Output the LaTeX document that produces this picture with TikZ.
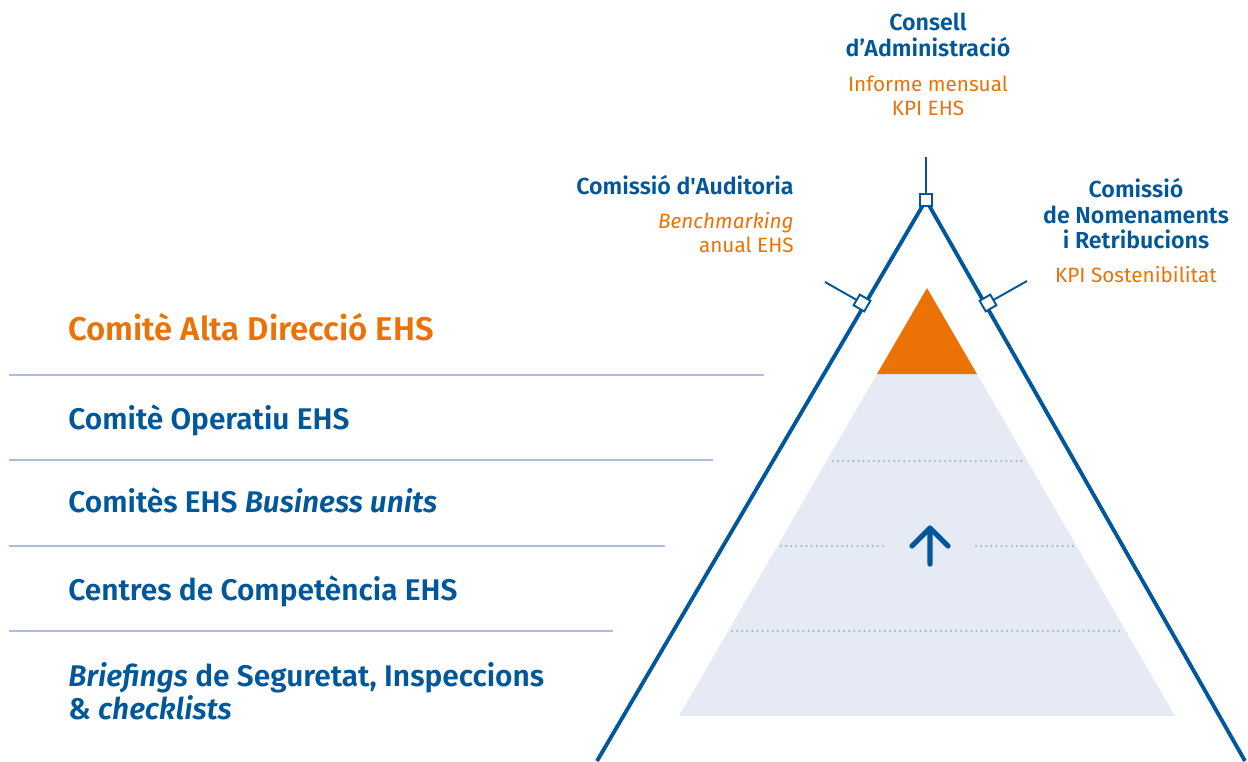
\documentclass[tikz,border=0pt]{standalone}
\usepackage{fontspec}
\setmainfont{Fira Sans}[BoldFont={Fira Sans SemiBold}]
\usetikzlibrary{positioning}
\definecolor{ehsblue}{HTML}{00579A}
\definecolor{ehsorange}{HTML}{EC7205}
\definecolor{pyrfill}{HTML}{E5EAF5}
\definecolor{ruleblue}{HTML}{A9BDE0}
\definecolor{dotblue}{HTML}{9DB2DA}
\newcommand{\plainapos}{{\addfontfeature{Ligatures=TeXOff}'}}

\begin{document}
\begin{tikzpicture}[x=0.02cm,y=-0.02cm,
  lvl/.style={anchor=base west,inner sep=0pt,
    font=\fontsize{17}{18.7}\selectfont\bfseries,text=ehsblue},
  organ/.style={inner sep=0pt,align=center,
    font=\fontsize{13.2}{14.6}\selectfont\bfseries,text=ehsblue},
  kpi/.style={inner sep=0pt,align=center,
    font=\fontsize{11.8}{13.6}\selectfont,text=ehsorange},
  sep/.style={ruleblue,line width=0.9pt},
  dots/.style={dotblue,line width=1.3pt,line cap=round,dash pattern=on 0pt off 2.9pt},
  knot/.style={draw=ehsblue,fill=white,line width=1.1pt,minimum size=7pt,inner sep=0pt},
  leg/.style={ehsblue,line width=2.2pt},
  tick/.style={ehsblue,line width=1.1pt}]
\useasboundingbox (0,0) rectangle (1248,761);

% pyramid
\fill[pyrfill] (877,374) -- (977,374) -- (1175,716) -- (679,716) -- cycle;
\fill[ehsorange] (927,288) -- (977,374) -- (877,374) -- cycle;
\draw[dots] (833,461) -- (1024,461);
\draw[dots] (781,546) -- (886,546);
\draw[dots] (976,546) -- (1075,546);
\draw[dots] (732,631) -- (1121,631);
\draw[ehsblue,line width=3pt,line cap=round,line join=round]
  (930,564) -- (930,530) (912,546) -- (930,528) -- (948,546);

% level rules and labels
\draw[sep] (9,375) -- (764,375);
\draw[sep] (9,460) -- (713,460);
\draw[sep] (9,546) -- (665,546);
\draw[sep] (9,631) -- (613,631);
\node[lvl,text=ehsorange,font=\fontsize{18.7}{20}\selectfont\bfseries] (alta) at (68,340) {Comitè Alta Direcció EHS};
\node[lvl] (oper) at (68,429) {Comitè Operatiu EHS};
\node[lvl] (units) at (68,512) {Comitès EHS \textit{Business units}};
\node[lvl] (centres) at (68,600) {Centres de Competència EHS};
\node[lvl,align=left,anchor=north west] (brief) at (68,662)
  {\textit{Briefings} de Seguretat, Inspeccions\\\& \textit{checklists}};

% governance frame
\coordinate (apex) at (926,200);
\coordinate (footl) at (597,761);
\coordinate (footr) at (1245,761);
\draw[leg] (footl) -- (apex) -- (footr);
\coordinate (topend) at (926,157);
\coordinate (audend) at (825,282);
\coordinate (nomend) at (1027,281);
\node[knot] (kapex) at (apex) {};
\node[knot,rotate=60] (kaud) at (862,303) {};
\node[knot,rotate=-60] (knom) at (988,303) {};
\draw[tick] (kapex) -- (topend);
\draw[tick] (kaud) -- (audend);
\draw[tick] (knom) -- (nomend);

% governing bodies
\node[organ,anchor=north] (consell) at (928,13) {Consell\\d’Administració};
\node[kpi,anchor=north] (mensual) at (928,76) {Informe mensual\\KPI EHS};
\node[organ,anchor=base east] (audit) at (794,194) {Comissió d\plainapos Auditoria};
\node[kpi,align=right,anchor=north east] (bench) at (794,212) {\textit{Benchmarking}\\anual EHS};
\node[organ,anchor=north] (nomen) at (1136,178) {Comissió\\de Nomenaments\\i Retribucions};
\node[kpi,anchor=base] (sosten) at (1136,282) {KPI Sostenibilitat};
\end{tikzpicture}
\end{document}
